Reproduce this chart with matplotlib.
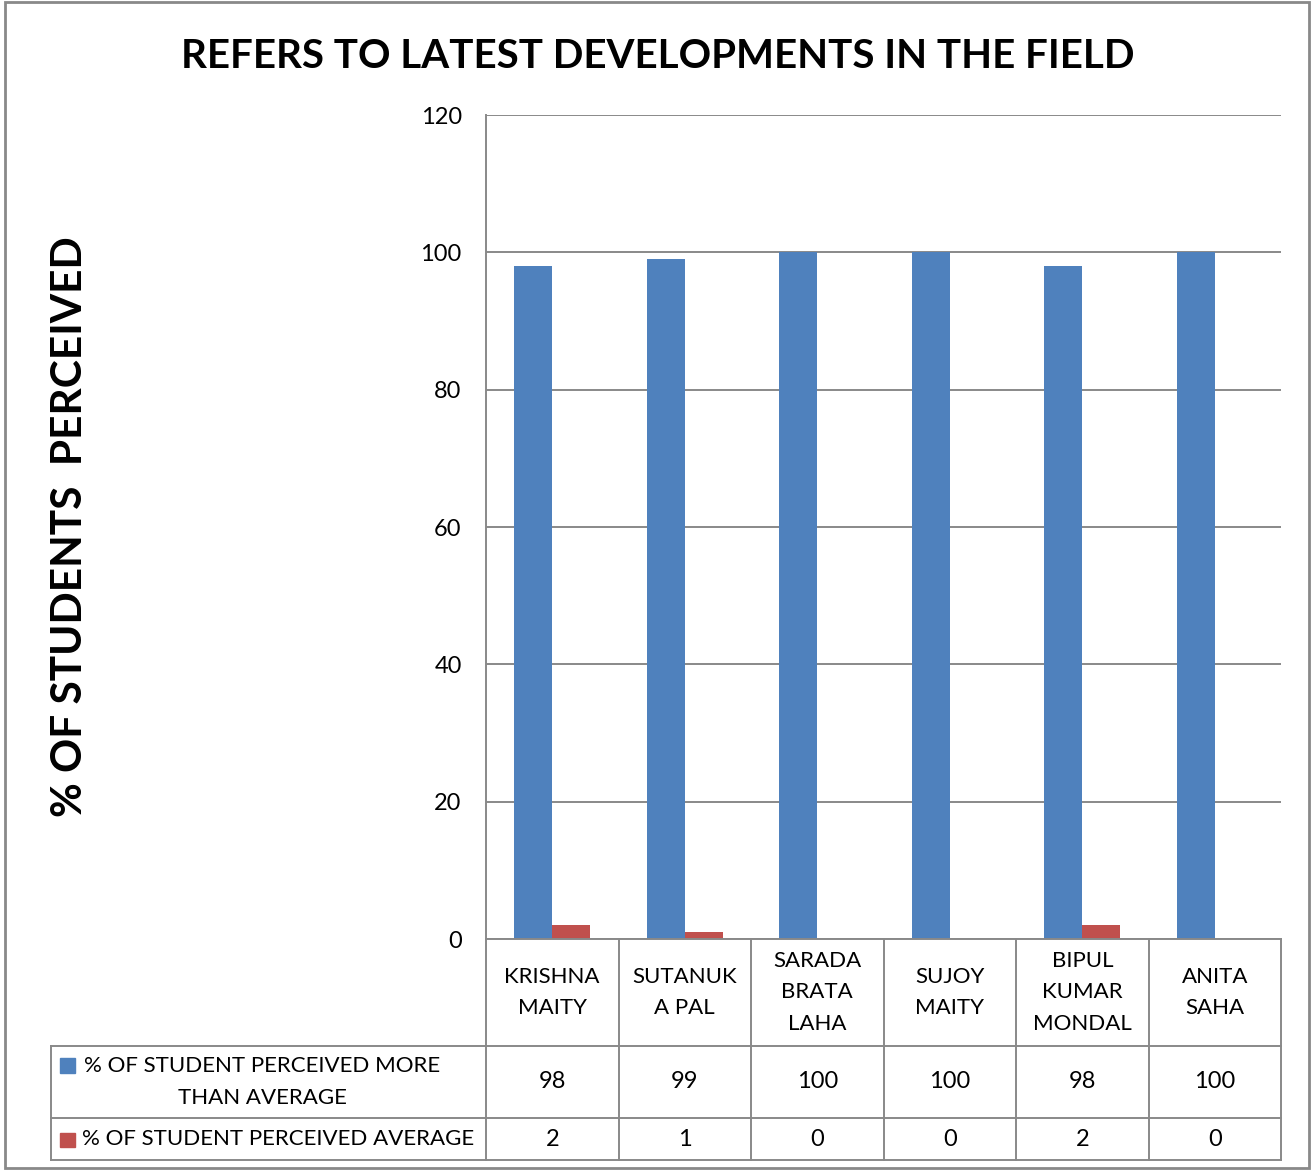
import matplotlib.pyplot as plt
from matplotlib.lines import Line2D
from matplotlib.patches import Rectangle
import numpy as np

# --- Data ---
teachers = ["KRISHNA\nMAITY", "SUTANUK\nA PAL", "SARADA\nBRATA\nLAHA",
            "SUJOY\nMAITY", "BIPUL\nKUMAR\nMONDAL", "ANITA\nSAHA"]
more_than_avg = [98, 99, 100, 100, 98, 100]
average = [2, 1, 0, 0, 2, 0]
series_names = ["% OF STUDENT PERCEIVED MORE\nTHAN AVERAGE",
                "% OF STUDENT PERCEIVED AVERAGE"]
colors = ["#4F81BD", "#C0504D"]
yticks = [0, 20, 40, 60, 80, 100, 120]

plt.rcParams['font.family'] = ['Lato', 'DejaVu Sans']

W, H = 1311, 1173
fig = plt.figure(figsize=(W / 100, H / 100), dpi=100)

def fx(x):
    return x / W

def fy(y):
    return 1 - y / H

grid_c = "#898989"

# plot area in pixel coords
L, R, T, B = 486, 1281, 115, 939
ax = fig.add_axes([fx(L), fy(B), fx(R) - fx(L), fy(T) - fy(B)])

n = len(teachers)
x = np.arange(n)
bw = 0.285
ax.bar(x - bw / 2, more_than_avg, width=bw, color=colors[0], zorder=3)
ax.bar(x + bw / 2, average, width=bw, color=colors[1], zorder=3)

ax.set_xlim(-0.5, n - 0.5)
ax.set_ylim(0, 120)
ax.set_yticks(yticks)
ax.set_xticks([])
ax.tick_params(axis='y', length=0, pad=17.5, labelsize=17)
ax.yaxis.grid(True, color=grid_c, lw=1.4, zorder=0)
for s in ["top", "right", "bottom"]:
    ax.spines[s].set_visible(False)
ax.spines["left"].set_color(grid_c)
ax.spines["left"].set_linewidth(1.4)

# title and y label
fig.text(fx(658), fy(56), "REFERS TO LATEST DEVELOPMENTS IN THE FIELD",
         ha="center", va="center", fontsize=29, fontweight="bold")
fig.text(fx(70), fy(527), "% OF STUDENTS  PERCEIVED", rotation=90,
         ha="center", va="center", fontsize=30.5, fontweight="bold")

# --- data table below the axes ---
col_w = (R - L) / n
rows = [939, 1046, 1118, 1160]
leg_left = 51

def hline(y, x0, x1):
    fig.add_artist(Line2D([fx(x0), fx(x1)], [fy(y), fy(y)], color=grid_c, lw=1.4))

def vline(x0, y0, y1):
    fig.add_artist(Line2D([fx(x0), fx(x0)], [fy(y0), fy(y1)], color=grid_c, lw=1.4))

hline(rows[0], L, R)
for y in rows[1:]:
    hline(y, leg_left, R)
for k in range(n + 1):
    vline(L + k * col_w, rows[0], rows[3])
vline(leg_left, rows[1], rows[3])

for i, name in enumerate(teachers):
    cx = L + (i + 0.5) * col_w
    fig.text(fx(cx), fy((rows[0] + rows[1]) / 2), name, ha="center", va="center",
             fontsize=16, linespacing=1.73)
    fig.text(fx(cx), fy((rows[1] + rows[2]) / 2), str(more_than_avg[i]),
             ha="center", va="center", fontsize=17)
    fig.text(fx(cx), fy((rows[2] + rows[3]) / 2), str(average[i]),
             ha="center", va="center", fontsize=17)

# legend entries in the table
fig.add_artist(Rectangle((fx(60), fy(1073)), fx(15), fy(1058) - fy(1073),
                         color=colors[0], transform=fig.transFigure))
fig.text(fx(262), fy(1082), series_names[0], ha="center", va="center",
         fontsize=16, linespacing=1.72, multialignment="center")
fig.add_artist(Rectangle((fx(60), fy(1147)), fx(15), fy(1133) - fy(1147),
                         color=colors[1], transform=fig.transFigure))
fig.text(fx(82), fy(1139), series_names[1], ha="left", va="center", fontsize=16)

# outer chart border
fig.add_artist(Rectangle((fx(5), fy(1168)), fx(1309) - fx(5), fy(2) - fy(1168),
                         fill=False, edgecolor=grid_c, lw=2, transform=fig.transFigure))

fig.savefig("out.png", dpi=100)
